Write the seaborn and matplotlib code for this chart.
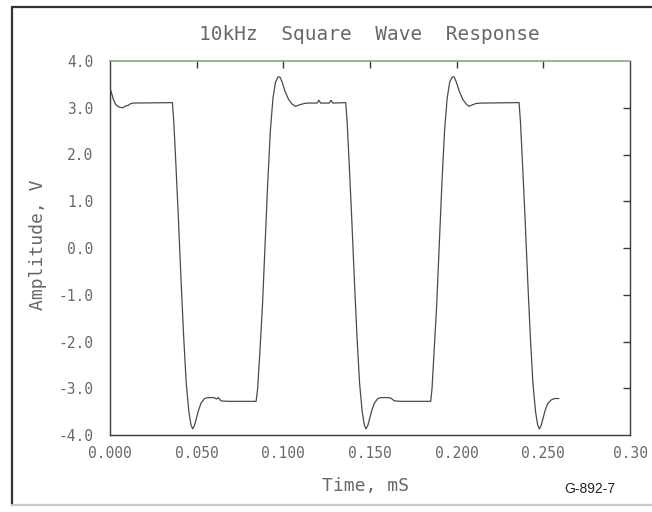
import matplotlib
matplotlib.use("Agg")
import matplotlib.pyplot as plt
import seaborn as sns
import pandas as pd

# ---- data ----
time_ms = [
    0.0000, 0.0010, 0.0020, 0.0035, 0.0055, 0.0075, 0.0090, 0.0105, 0.0120, 0.0135,
    0.0360, 0.0368, 0.0380, 0.0395, 0.0410, 0.0425, 0.0440, 0.0455, 0.0467, 0.0477,
    0.0487, 0.0498, 0.0510, 0.0525, 0.0545, 0.0565, 0.0600, 0.0615, 0.0625, 0.0640,
    0.0680, 0.0843, 0.0852, 0.0865, 0.0880, 0.0895, 0.0910, 0.0925, 0.0940, 0.0955,
    0.0970, 0.0980, 0.0993, 0.1010, 0.1030, 0.1050, 0.1070, 0.1085, 0.1100, 0.1120,
    0.1140, 0.1195, 0.1205, 0.1215, 0.1265, 0.1275, 0.1285, 0.1360,
    0.1368, 0.1380, 0.1395, 0.1410, 0.1425, 0.1440, 0.1455, 0.1467, 0.1477,
    0.1487, 0.1498, 0.1510, 0.1525, 0.1545, 0.1565, 0.1600, 0.1620, 0.1640,
    0.1680, 0.1850, 0.1858, 0.1870, 0.1885, 0.1900, 0.1915, 0.1930, 0.1945, 0.1960,
    0.1975, 0.1985, 0.1998, 0.2015, 0.2035, 0.2055, 0.2072, 0.2090, 0.2110, 0.2140,
    0.2360, 0.2368, 0.2380, 0.2395, 0.2410, 0.2425, 0.2440, 0.2455, 0.2467, 0.2477,
    0.2487, 0.2498, 0.2510, 0.2525, 0.2545, 0.2565, 0.2590,
]
amplitude_v = [
    3.42, 3.30, 3.17, 3.06, 3.01, 3.00, 3.04, 3.05, 3.09, 3.10,
    3.11, 2.70, 1.80, 0.60, -0.70, -1.90, -2.90, -3.50, -3.78, -3.87,
    -3.80, -3.65, -3.48, -3.32, -3.22, -3.20, -3.20, -3.23, -3.20, -3.27,
    -3.28, -3.28, -3.00, -2.20, -1.20, 0.10, 1.40, 2.50, 3.20, 3.55,
    3.66, 3.66, 3.55, 3.35, 3.18, 3.08, 3.03, 3.05, 3.07, 3.09,
    3.10, 3.10, 3.16, 3.10, 3.10, 3.16, 3.10, 3.11,
    2.70, 1.80, 0.60, -0.70, -1.90, -2.90, -3.50, -3.78, -3.87,
    -3.80, -3.65, -3.48, -3.32, -3.22, -3.20, -3.20, -3.21, -3.27,
    -3.28, -3.28, -3.00, -2.20, -1.20, 0.10, 1.40, 2.50, 3.20, 3.55,
    3.66, 3.66, 3.55, 3.35, 3.18, 3.08, 3.03, 3.06, 3.09, 3.10,
    3.11, 2.70, 1.80, 0.60, -0.70, -1.90, -2.90, -3.50, -3.78, -3.87,
    -3.80, -3.65, -3.48, -3.33, -3.25, -3.22, -3.22,
]

x_ticks = [0.0, 0.05, 0.10, 0.15, 0.20, 0.25, 0.30]
x_tick_labels = ["0.000", "0.050", "0.100", "0.150", "0.200", "0.250", "0.30"]
y_ticks = [4.0, 3.0, 2.0, 1.0, 0.0, -1.0, -2.0, -3.0, -4.0]
y_tick_labels = ["4.0", "3.0", "2.0", "1.0", "0.0", "-1.0", "-2.0", "-3.0", "-4.0"]

title_text = "10kHz  Square  Wave  Response"
x_label = "Time, mS"
y_label = "Amplitude, V"
figure_code = "G-892-7"

# ---- style ----
sns.set_style("white")
plt.rcParams["font.family"] = ["DejaVu Sans Mono", "DejaVu Sans"]
text_col = "#686868"
line_col = "#4a4a4a"
spine_col = "#3a3a3a"

W, H = 652, 512
fig = plt.figure(figsize=(W / 100, H / 100), dpi=100)
ax = fig.add_axes([110 / W, 1 - 435 / H, 520 / W, 374 / H])

df = pd.DataFrame({"t": time_ms, "v": amplitude_v})
sns.lineplot(data=df, x="t", y="v", ax=ax, color=line_col, lw=0.9,
             estimator=None, sort=False)

ax.set_xlim(0.0, 0.30)
ax.set_ylim(-4.0, 4.0)
ax.set_xticks(x_ticks)
ax.set_xticklabels(x_tick_labels)
ax.set_yticks(y_ticks)
ax.set_yticklabels(y_tick_labels)
ax.set_xlabel("")
ax.set_ylabel("")

for side in ["left", "bottom", "right"]:
    ax.spines[side].set_color(spine_col)
    ax.spines[side].set_linewidth(1.0)
ax.spines["top"].set_color("#86a783")
ax.spines["top"].set_linewidth(1.2)

ax.tick_params(axis="both", direction="inout", length=8, width=1.0,
               color=spine_col, labelcolor=text_col, labelsize=10.5)
ax.tick_params(axis="y", pad=8)
ax.tick_params(axis="x", pad=4)

# inward ticks on top and right spines
sec_x = ax.secondary_xaxis("top")
sec_x.set_xticks(x_ticks[1:-1])
sec_x.tick_params(direction="in", length=5, width=1.0, color=spine_col, labeltop=False)
sec_x.spines["top"].set_visible(False)
sec_y = ax.secondary_yaxis("right")
sec_y.set_yticks(y_ticks[1:-1])
sec_y.tick_params(direction="in", length=5, width=1.0, color=spine_col, labelright=False)
sec_y.spines["right"].set_visible(False)

# texts
fig.text(369 / W, 1 - 35 / H, title_text, ha="center", va="center",
         fontsize=14, color=text_col)
fig.text(365 / W, 1 - 486 / H, x_label, ha="center", va="center",
         fontsize=13, color=text_col)
fig.text(38 / W, 1 - 245 / H, y_label, ha="center", va="center",
         fontsize=13, color=text_col, rotation=90)
fig.text(590 / W, 1 - 489 / H, figure_code, ha="center", va="center",
         fontsize=10, color="#222222", family=["Liberation Sans", "DejaVu Sans"])

# scanned page frame
fig.add_artist(plt.Line2D([12 / W, 12 / W], [1 - 7 / H, 1 - 505 / H],
                          transform=fig.transFigure, color="#333333", lw=1.6))
fig.add_artist(plt.Line2D([12 / W, 1.0], [1 - 7 / H, 1 - 7 / H],
                          transform=fig.transFigure, color="#333333", lw=1.6))
fig.add_artist(plt.Line2D([12 / W, 1.0], [1 - 505 / H, 1 - 505 / H],
                          transform=fig.transFigure, color="#c8c8c8", lw=1.6))

fig.savefig("out.png", dpi=100)
